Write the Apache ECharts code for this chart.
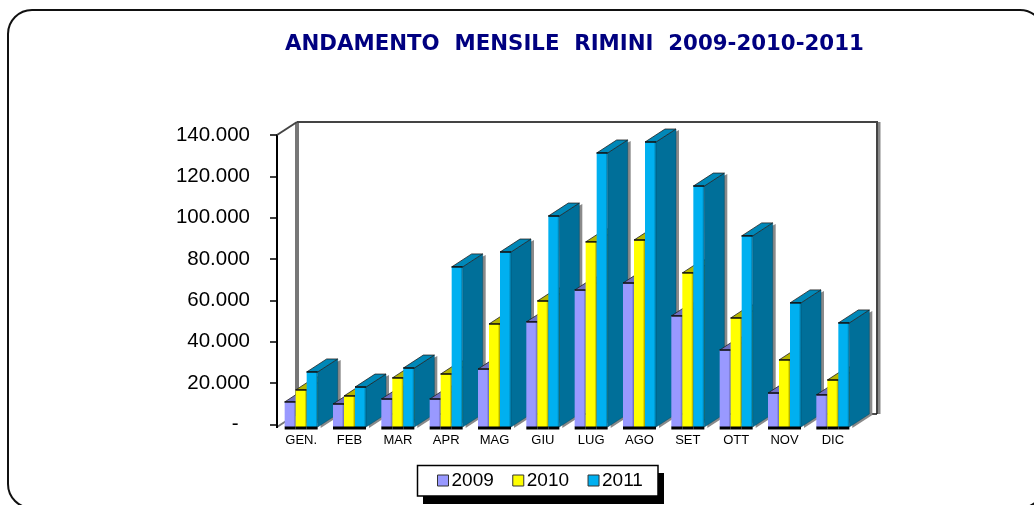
<!DOCTYPE html>
<html>
<head>
<meta charset="utf-8">
<title>Andamento mensile Rimini</title>
<script src="https://cdn.jsdelivr.net/npm/echarts@6/dist/echarts.min.js"></script>
<style>
  html, body { margin: 0; padding: 0; background: #fff; overflow: hidden; }
  #chart { width: 1034px; height: 505px; }
</style>
</head>
<body>
<div id="chart"></div>
<script>
var months = ['GEN.', 'FEB', 'MAR', 'APR', 'MAG', 'GIU', 'LUG', 'AGO', 'SET', 'OTT', 'NOV', 'DIC'];
var years = ['2009', '2010', '2011'];
var values2009 = [10900, 9900, 12300, 12300, 26800, 49600, 65000, 68400, 52500, 36000, 15200, 14300];
var values2010 = [16700, 13800, 22500, 24400, 48600, 59700, 88300, 89200, 73300, 51500, 31200, 21500];
var values2011 = [25400, 18100, 27300, 76200, 83400, 100800, 131300, 136600, 115300, 91200, 58800, 49100];
var yTickLabels = ['-  ', '20.000', '40.000', '60.000', '80.000', '100.000', '120.000', '140.000'];

var frontColors = ['#9999ff', '#ffff00', '#00b0f0'];
var topColors = ['#6f6fc0', '#b5b500', '#0088b8'];
var sideColors = ['#6666aa', '#999900', '#006f99'];

// plot box and the fake 3d depth
var left = 277, top_ = 135, plotW = 580, plotH = 289.5;
var depthX = 20, depthY = 13;
// bars stand a bit below the zero tick in the original
var baseDrop = 2.5;

var chart = echarts.init(document.getElementById('chart'));

function bar3d(seriesIdx) {
    return function (params, api) {
        var cat = api.value(0);
        var p = api.coord([cat, api.value(1)]);
        var base = api.coord([cat, 0]);
        var group = api.size([1, 0])[0] * 0.683;
        var w = group / 3;
        var x = p[0] - group / 2 + w * seriesIdx;
        var y = p[1];
        var b = base[1] + baseDrop;
        var z = cat * 10 + seriesIdx * 3;
        return {
            type: 'group',
            children: [
                // grey drop shadow right of the side face
                {
                    type: 'polygon', z2: z,
                    shape: { points: [[x + w + 3, b + 1], [x + w + depthX + 3, b - depthY + 1], [x + w + depthX + 3, y - depthY + 1], [x + w, y]] },
                    style: { fill: '#8a8a8a' }
                },
                {
                    type: 'polygon', z2: z + 1,
                    shape: { points: [[x + w, b], [x + w + depthX, b - depthY], [x + w + depthX, y - depthY], [x + w, y]] },
                    style: { fill: sideColors[seriesIdx], stroke: '#004a66', lineWidth: 0.5 }
                },
                {
                    type: 'polygon', z2: z + 1,
                    shape: { points: [[x, y], [x + w, y], [x + w + depthX, y - depthY], [x + depthX, y - depthY]] },
                    style: { fill: topColors[seriesIdx], stroke: '#222', lineWidth: 0.8 }
                },
                {
                    type: 'rect', z2: z + 2,
                    shape: { x: x, y: y, width: w, height: b - y },
                    style: {
                        fill: {
                            type: 'linear', x: 0, y: 0, x2: 1, y2: 0,
                            colorStops: [
                                { offset: 0, color: frontColors[seriesIdx] },
                                { offset: 0.8, color: frontColors[seriesIdx] },
                                { offset: 1, color: sideColors[seriesIdx] }
                            ]
                        }
                    }
                },
                {
                    type: 'line', z2: z + 2,
                    shape: { x1: x, y1: y, x2: x + w, y2: y },
                    style: { stroke: '#111', lineWidth: 1.5 }
                },
                {
                    type: 'line', z2: z + 2,
                    shape: { x1: x, y1: b + 1, x2: x + w, y2: b + 1 },
                    style: { stroke: '#000', lineWidth: 3 }
                }
            ]
        };
    };
}

function makeSeries(name, idx, values) {
    return {
        name: name,
        type: 'custom',
        renderItem: bar3d(idx),
        itemStyle: { color: frontColors[idx] },
        encode: { x: 0, y: 1 },
        data: values.map(function (v, i) { return [i, v]; }),
        z: 5,
        silent: true
    };
}

var right = left + plotW, bottom = top_ + plotH + baseDrop;

option = {
    animation: false,
    backgroundColor: '#fff',
    title: {
        text: 'ANDAMENTO  MENSILE  RIMINI  2009-2010-2011',
        left: 285,
        top: 33.5,
        padding: 0,
        textStyle: { fontFamily: 'DejaVu Sans', fontSize: 21.3, fontWeight: 'bold', color: '#000080' }
    },
    legend: {
        left: 437,
        top: 471,
        padding: 0,
        data: years.map(function (y) { return { name: y, icon: 'rect' }; }),
        itemWidth: 11,
        itemHeight: 11,
        itemGap: 18.5,
        itemStyle: { borderColor: '#333', borderWidth: 1 },
        textStyle: { fontFamily: 'Liberation Sans', fontSize: 19, color: '#000', padding: [0, 0, 0, -2] }
    },
    grid: { left: left, top: top_, width: plotW, height: plotH },
    xAxis: {
        type: 'category',
        data: months,
        axisLine: { show: false },
        axisTick: { show: false },
        axisLabel: { fontFamily: 'Liberation Sans', fontSize: 13, color: '#000', margin: 9 }
    },
    yAxis: {
        type: 'value',
        min: 0,
        max: 140000,
        interval: 20000,
        splitLine: { show: false },
        axisLine: { show: true, lineStyle: { color: '#000', width: 2 } },
        axisTick: { show: true, length: 7, lineStyle: { color: '#000', width: 1.5 } },
        axisLabel: {
            fontFamily: 'Liberation Sans',
            fontSize: 20.5,
            color: '#000',
            margin: 27,
            padding: [5, 0, 0, 0],
            formatter: function (v) { return yTickLabels[v / 20000]; }
        }
    },
    graphic: [
        // outer rounded frame
        {
            type: 'rect', z: 0,
            shape: { x: 8, y: 10, width: 1036, height: 498, r: 24 },
            style: { fill: '#fff', stroke: '#111', lineWidth: 2 }
        },
        // back wall
        {
            type: 'line', z: 1,
            shape: { x1: right + depthX + 2, y1: top_ - depthY, x2: right + depthX + 2, y2: bottom - depthY },
            style: { stroke: '#888', lineWidth: 3 }
        },
        {
            type: 'line', z: 1,
            shape: { x1: left + depthX, y1: top_ - depthY, x2: left + depthX, y2: bottom - depthY },
            style: { stroke: '#777', lineWidth: 4 }
        },
        {
            type: 'polyline', z: 1,
            shape: { points: [[left + depthX, top_ - depthY], [right + depthX, top_ - depthY], [right + depthX, bottom - depthY]] },
            style: { stroke: '#444', lineWidth: 2, fill: null }
        },
        {
            type: 'line', z: 1,
            shape: { x1: left + depthX, y1: bottom - depthY, x2: right + depthX, y2: bottom - depthY },
            style: { stroke: '#111', lineWidth: 1.5 }
        },
        // left side edges
        {
            type: 'line', z: 1,
            shape: { x1: left, y1: top_, x2: left + depthX, y2: top_ - depthY },
            style: { stroke: '#444', lineWidth: 2 }
        },
        {
            type: 'line', z: 1,
            shape: { x1: left, y1: bottom, x2: left + depthX, y2: bottom - depthY },
            style: { stroke: '#777', lineWidth: 2 }
        },
        // axis line runs on to the bar base
        {
            type: 'line', z: 3,
            shape: { x1: left, y1: bottom - baseDrop, x2: left, y2: bottom + 1 },
            style: { stroke: '#000', lineWidth: 2 }
        },
        // legend box with its hard shadow
        {
            type: 'rect', z: 1,
            shape: { x: 423, y: 473, width: 241, height: 31 },
            style: { fill: '#000' }
        },
        {
            type: 'rect', z: 1,
            shape: { x: 417.5, y: 465.5, width: 240.5, height: 30.5 },
            style: { fill: '#fff', stroke: '#000', lineWidth: 1.5 }
        }
    ],
    series: [
        makeSeries(years[0], 0, values2009),
        makeSeries(years[1], 1, values2010),
        makeSeries(years[2], 2, values2011)
    ]
};

chart.setOption(option);
</script>
</body>
</html>
